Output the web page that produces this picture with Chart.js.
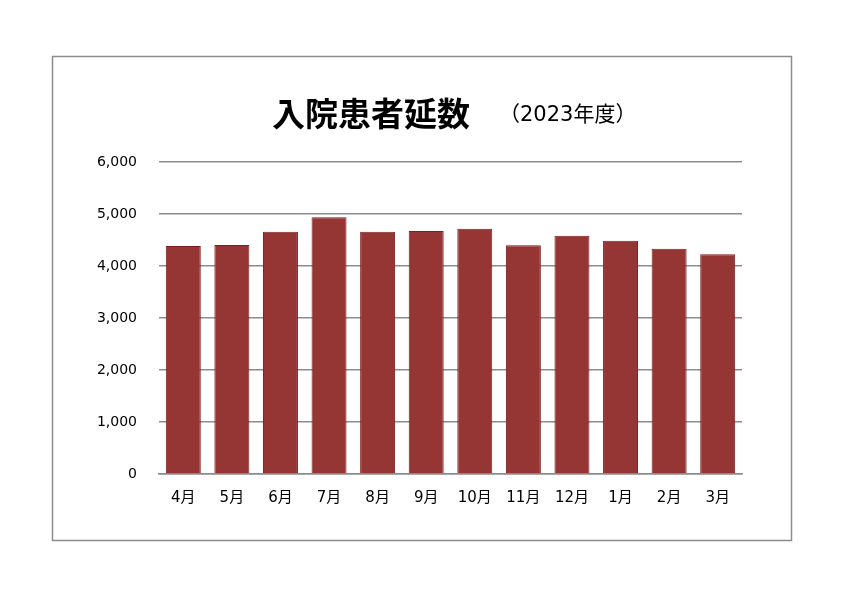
<!DOCTYPE html>
<html>
<head>
<meta charset="utf-8">
<script src="https://cdn.jsdelivr.net/npm/chart.js@4"></script>
<style>
  html, body { margin: 0; padding: 0; background: #fff; }
  #wrap { width: 842px; height: 595px; position: relative; }
</style>
</head>
<body>
<div id="wrap"><canvas id="inpatientChart" width="842" height="595"></canvas></div>
<script>
// 入院患者延数 (2023年度)
const months = ['4月', '5月', '6月', '7月', '8月', '9月', '10月', '11月', '12月', '1月', '2月', '3月'];
const patientDays = [4385, 4404, 4660, 4936, 4660, 4673, 4718, 4397, 4583, 4487, 4333, 4224];
const titleMain = '入院患者延数';
const titleSub = '（2023年度）';

const fontFamily = '"Noto Sans CJK JP", "Noto Sans", sans-serif';
const tickFamily = '"DejaVu Sans", "Noto Sans CJK JP", sans-serif';

// frame around the whole chart and the two-part title
const framePlugin = {
    id: 'frame',
    beforeDraw(chart) {
        const ctx = chart.ctx;
        ctx.save();
        ctx.fillStyle = '#fff';
        ctx.fillRect(0, 0, chart.width, chart.height);
        ctx.strokeStyle = '#8c8c8c';
        ctx.lineWidth = 1.5;
        ctx.strokeRect(52.5, 56.5, 739, 484);
        ctx.restore();
    },
    afterDraw(chart) {
        const ctx = chart.ctx;
        ctx.save();
        ctx.fillStyle = '#000';
        ctx.textBaseline = 'middle';
        ctx.textAlign = 'left';
        ctx.font = 'bold 33px ' + fontFamily;
        ctx.fillText(titleMain, 272, 113);
        ctx.font = '21px ' + tickFamily;
        ctx.fillText(titleSub, 499, 116);
        ctx.restore();
    }
};

const ctx = document.getElementById('inpatientChart').getContext('2d');
new Chart(ctx, {
    type: 'bar',
    data: {
        labels: months,
        datasets: [{
            label: titleMain,
            data: patientDays,
            backgroundColor: '#963634',
            borderColor: '#7c1e1e',
            borderWidth: 1,
            barPercentage: 0.72,
            categoryPercentage: 1
        }]
    },
    options: {
        responsive: false,
        animation: false,
        devicePixelRatio: 1,
        layout: {
            padding: { top: 162, right: 100, bottom: 60, left: 0 }
        },
        plugins: {
            legend: { display: false },
            title: { display: false },
            tooltip: { enabled: false }
        },
        scales: {
            x: {
                grid: { display: false, drawTicks: false },
                border: { display: true, color: '#8c8c8c', width: 1.5 },
                ticks: {
                    color: '#000',
                    padding: 15,
                    font: { family: tickFamily, size: 15 }
                },
                afterFit(axis) { axis.height = 61; }
            },
            y: {
                min: 0,
                max: 6000,
                ticks: {
                    stepSize: 1000,
                    color: '#000',
                    padding: 22,
                    font: { family: tickFamily, size: 14 },
                    callback: v => v.toLocaleString('en-US')
                },
                grid: { color: '#8c8c8c', lineWidth: 1.5, drawTicks: false },
                border: { display: false },
                afterFit(axis) { axis.width = 159; }
            }
        }
    },
    plugins: [framePlugin]
});
</script>
</body>
</html>
